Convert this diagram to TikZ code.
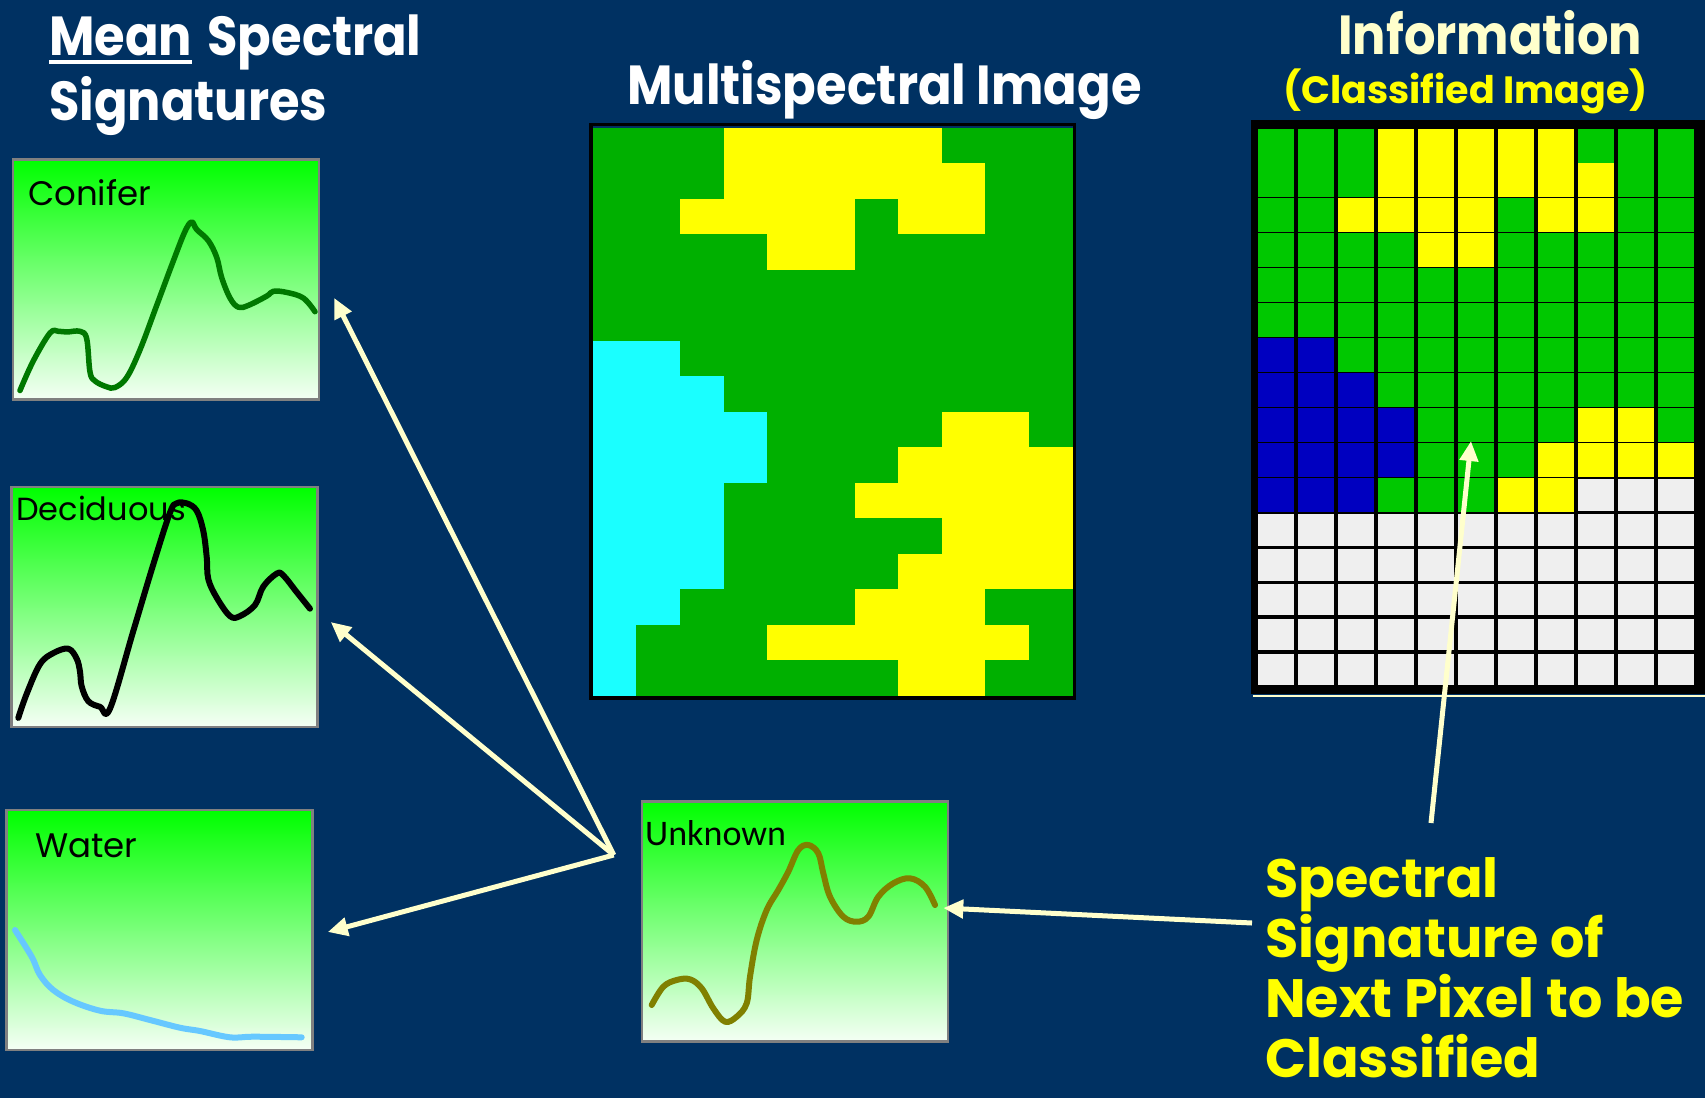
\documentclass[tikz,border=0pt]{standalone}
\usepackage{fontspec}
\setmainfont{Poppins}
\newfontfamily\ttlfont[FakeStretch=0.9]{Poppins}
\newfontfamily\calfont{Carlito}
\usetikzlibrary{arrows.meta}

\definecolor{bgblue}{RGB}{0,49,98}
\definecolor{cream}{RGB}{255,255,204}
\definecolor{txtyellow}{RGB}{255,255,0}
\definecolor{msG}{RGB}{0,176,0}
\definecolor{msY}{RGB}{255,255,0}
\definecolor{msC}{RGB}{26,255,255}
\definecolor{clG}{RGB}{0,200,0}
\definecolor{clY}{RGB}{255,255,0}
\definecolor{clC}{RGB}{0,0,192}
\definecolor{clgrey}{RGB}{239,239,239}
\definecolor{boxtop}{RGB}{0,255,0}
\definecolor{boxbot}{RGB}{245,255,245}
\definecolor{conline}{RGB}{0,120,0}
\definecolor{watline}{RGB}{102,200,255}
\definecolor{unkline}{RGB}{128,128,0}

% the scene, 16 rows of 11 pixels (G forest, Y field, C water)
\newcommand{\scenerows}{%
{G,G,G,Y,Y,Y,Y,Y,G,G,G},%
{G,G,G,Y,Y,Y,Y,Y,Y,G,G},%
{G,G,Y,Y,Y,Y,G,Y,Y,G,G},%
{G,G,G,G,Y,Y,G,G,G,G,G},%
{G,G,G,G,G,G,G,G,G,G,G},%
{G,G,G,G,G,G,G,G,G,G,G},%
{C,C,G,G,G,G,G,G,G,G,G},%
{C,C,C,G,G,G,G,G,G,G,G},%
{C,C,C,C,G,G,G,G,Y,Y,G},%
{C,C,C,C,G,G,G,Y,Y,Y,Y},%
{C,C,C,G,G,G,Y,Y,Y,Y,Y},%
{C,C,C,G,G,G,G,G,Y,Y,Y},%
{C,C,C,G,G,G,G,Y,Y,Y,Y},%
{C,C,G,G,G,G,Y,Y,Y,G,G},%
{C,G,G,G,Y,Y,Y,Y,Y,Y,G},%
{C,G,G,G,G,G,G,Y,Y,G,G}}

\begin{document}
\begin{tikzpicture}[x=1pt,y=-1pt,
  sigbox/.style ={draw=gray, line width=2.5pt, top color=boxtop, bottom color=boxbot,
                  minimum width=306pt, minimum height=240pt, inner sep=0pt},
  sigcurve/.style={line width=5.5pt, line cap=round, line join=round},
  lbl/.style    ={font=\fontsize{34}{40}\selectfont, text=black, inner sep=0pt, anchor=base west},
  ttl/.style    ={font=\ttlfont\bfseries\fontsize{55}{64}\selectfont, text=white, inner sep=0pt, anchor=base west},
  arr/.style    ={draw=cream, line width=5pt, -{Triangle[length=20pt,width=18pt]}}]

  \fill[bgblue] (0,0) rectangle (1705,1098);
  \useasboundingbox (0,0) rectangle (1705,1098);
  \clip (0,0) rectangle (1705,1098);

  % ---------------- titles ----------------
  \node[ttl] (tmean) at (49,55) {Mean};
  \draw[white, line width=3.5pt] ([yshift=-7pt]tmean.base west) -- ([yshift=-7pt]tmean.base east);
  \node[ttl] (tspec) at ([xshift=15pt]tmean.base east) {Spectral};
  \node[ttl] (tsig) at (49,120) {Signatures};
  \node[ttl] (tmulti) at (627,104) {Multispectral Image};
  \node[ttl, text=cream] (tinfo) at (1338,54) {Information};
  \node[ttl, text=txtyellow, font=\bfseries\fontsize{38}{44}\selectfont] (tclass) at (1283,103) {(Classified Image)};

  % ---------------- multispectral image ----------------
  \foreach \row [count=\r from 0] in \scenerows {
    \foreach \k [count=\c from 0] in \row {
      \fill[fill=ms\k] ({592.7+\c*43.64},{128+\r*35.47}) rectangle ++(44.2,36);
    }
  }
  \node[draw=black, line width=3.5pt, minimum width=483.5pt, minimum height=573.5pt, inner sep=0pt] (msimg) at (832.7,411) {};

  % ---------------- classified image (first 118 pixels done) ----------------
  \node[fill=black, minimum width=454pt, minimum height=574pt, inner sep=0pt] (clsimg) at (1478,407) {};
  \foreach \row [count=\r from 0] in \scenerows {
    \foreach \k [count=\c from 0] in \row {
      \ifnum\numexpr\r*11+\c\relax<118
        \fill[fill=cl\k] ({1257.5+\c*40},{128.5+\r*34.9}) rectangle ++(36.5,34);
      \else
        \fill[fill=clgrey] ({1257.5+\c*40},{130.2+\r*34.9}) rectangle ++(36.5,31.5);
      \fi
    }
  }
  \draw[cream, line width=2pt] (1253,696) -- (1705,696);

  % ---------------- mean signatures ----------------
  \node[sigbox] (conifer) at (166,279.5) {};
  \draw[sigcurve, conline] plot[smooth, tension=0.6] coordinates {
    (20,390.5) (33.3,360.9) (50,333) (58.3,331.3) (66.7,332) (80,331.3) (86.7,338.7)
    (90,372) (95,381) (106.7,386.8) (115,387.5) (126.7,377.5) (140,349.8) (156.7,305.4)
    (173.3,261) (185,231.4) (191.7,222) (196.7,229.5) (208.3,240.6) (216.7,257.3)
    (221.7,277.6) (230,298) (238.3,307.2) (248.3,305.4) (266.7,296.1) (273.3,291.3)
    (286.7,292.4) (303.3,298) (315,311.7)};
  \node[lbl] (lcon) at (28,205) {Conifer};

  \node[sigbox] (decid) at (164.5,607) {};
  \draw[sigcurve, black, line width=6pt] plot[smooth, tension=0.6] coordinates {
    (18.3,717.9) (26.7,693.8) (40,664.2) (53.3,653.1) (68.3,648.7) (76.7,658.7) (80,671.6)
    (81.7,686.4) (88.3,701.2) (100,706.8) (110,708.6) (133.3,631) (153.3,564.4) (170,512.6)
    (176.7,503.3) (186.7,503.3) (196.7,510.7) (203.3,531) (206.7,557) (208.3,579.1)
    (216.7,597.6) (230,616.1) (240,616.1) (255,605) (263.3,586.5) (276.7,573.6)
    (283.3,575.4) (296.7,592.1) (310,608.7)};
  \node[lbl, font=\fontsize{32}{40}\selectfont] (ldec) at (16,520) {Deciduous};

  \node[sigbox] (water) at (159.5,930) {};
  \draw[sigcurve, watline, line width=6pt] plot[smooth, tension=0.6] coordinates {
    (15,930) (31.7,956.7) (40,975) (53.3,990) (73.3,1001.7) (100,1010.7) (123.3,1013.3)
    (150,1020) (180,1027.7) (200,1031) (230,1037.3) (253.3,1036.7) (301.7,1037.3)};
  \node[lbl] (lwat) at (35,857) {Water};

  % ---------------- unknown pixel ----------------
  \node[sigbox] (unknown) at (795,921.5) {};
  \draw[sigcurve, unkline, line width=6pt] plot[smooth, tension=0.6] coordinates {
    (651.7,1005) (663.3,986.7) (676.7,980) (690,979.3) (701.7,988.3) (713.3,1008.3)
    (725,1021.7) (736.7,1016.7) (746.7,1003.3) (750,976.7) (756.7,940) (766.7,910)
    (778.3,890) (788.3,871.7) (798.3,850) (808.3,845) (818.3,853.3) (823.3,873.3)
    (830,896.7) (843.3,916.7) (856.7,921.7) (868.3,916.7) (878.3,896.7) (893.3,883.3)
    (910,878.3) (925,886.7) (935,905)};
  \node[lbl, font=\calfont\fontsize{36}{40}\selectfont] (lunk) at (645,845) {Unknown};

  % base of a multi-line node = baseline of its last line
  \node[font=\bfseries\fontsize{54}{60}\selectfont, text=txtyellow, align=left, inner sep=0pt,
        anchor=base west] (nexttxt) at (1265,1077)
        {Spectral\\Signature of\\Next Pixel to be\\Classified};

  % ---------------- arrows ----------------
  \coordinate (fork) at ([xshift=-27pt,yshift=66.5pt]unknown.west);
  \coordinate (txtout) at (1252,923);
  \coordinate (txtup) at (1431,823);
  \coordinate (nextpx) at (1471,441);
  \draw[arr] (fork) -- ([xshift=14pt,yshift=-18.5pt]conifer.east);
  \draw[arr] (fork) -- ([xshift=12pt,yshift=-15pt]decid.east);
  \draw[arr] (fork) -- ([xshift=14pt,yshift=-2pt]water.east);
  \draw[arr] (txtout) -- ([xshift=-6pt,yshift=13.5pt]unknown.east);
  \draw[arr] (txtup) -- (nextpx);
\end{tikzpicture}
\end{document}
